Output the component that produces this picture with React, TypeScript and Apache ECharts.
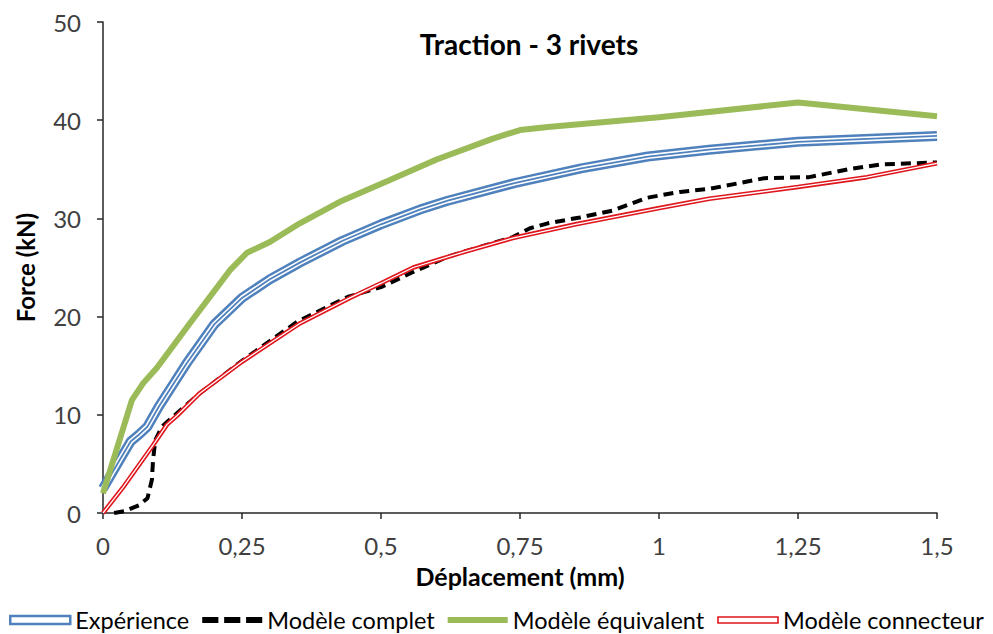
import React, { useEffect, useRef } from "react";
import * as echarts from "echarts";

const titleText = "Traction - 3 rivets";
const xAxisName = "Déplacement (mm)";
const yAxisName = "Force (kN)";
const seriesNames = ["Expérience", "Modèle complet", "Modèle équivalent", "Modèle connecteur"];

// Expérience
const expX = [0, 0.03, 0.05, 0.065, 0.08, 0.1, 0.125, 0.15, 0.2, 0.25, 0.3, 0.354, 0.43, 0.5, 0.57, 0.62, 0.74, 0.86, 0.98, 1.09, 1.25, 1.5];
const expY = [2.5, 5.4, 7.3, 8.0, 8.8, 10.8, 13.0, 15.2, 19.2, 21.9, 23.8, 25.5, 27.7, 29.4, 30.9, 31.8, 33.6, 35.1, 36.3, 37.0, 37.8, 38.4];

// Modèle complet
const compX = [0.02, 0.04, 0.065, 0.08, 0.088, 0.09, 0.094, 0.106, 0.13, 0.17, 0.25, 0.35, 0.44, 0.5, 0.56, 0.62, 0.69, 0.737, 0.768, 0.8, 0.858, 0.917, 0.978, 1.038, 1.09, 1.19, 1.27, 1.34, 1.4, 1.5];
const compY = [0, 0.2, 0.8, 1.5, 3.4, 5.4, 7.4, 8.8, 10.0, 12.0, 15.5, 19.5, 22.0, 23.0, 24.6, 26.1, 27.3, 28.1, 29.0, 29.5, 30.1, 30.8, 32.1, 32.7, 33.0, 34.1, 34.2, 35.0, 35.5, 35.7];

// Modèle équivalent
const equiX = [0, 0.052, 0.072, 0.097, 0.156, 0.228, 0.259, 0.3, 0.354, 0.43, 0.516, 0.6, 0.7, 0.75, 0.8, 1.0, 1.25, 1.5];
const equiY = [2, 11.5, 13.2, 14.8, 19.3, 24.7, 26.5, 27.6, 29.5, 31.8, 33.9, 36.0, 38.1, 39.0, 39.3, 40.3, 41.8, 40.4];

// Modèle connecteur
const connX = [0, 0.036, 0.09, 0.115, 0.133, 0.174, 0.25, 0.354, 0.444, 0.5, 0.558, 0.65, 0.737, 0.85, 0.996, 1.09, 1.25, 1.374, 1.5];
const connY = [0, 2.6, 6.9, 9.0, 9.9, 12.2, 15.4, 19.3, 21.9, 23.4, 25.0, 26.6, 28.0, 29.4, 31.0, 32.0, 33.2, 34.2, 35.6];

const xTicks = [0, 0.25, 0.5, 0.75, 1, 1.25, 1.5];

const zip = (xs: number[], ys: number[]) => xs.map((x, i) => [x, ys[i]]);

const BLUE = "#4F81BD";
const GREEN = "#9BBB59";
const RED = "#E0161D";
const FONT = "Lato, 'Open Sans', sans-serif";

export default function App() {
  const ref = useRef<HTMLDivElement>(null);
  useEffect(() => {
    if (!ref.current) return;
    const chart = echarts.init(ref.current, undefined, { renderer: "svg" });
    const expData = zip(expX, expY);
    const connData = zip(connX, connY);
    const lineBase = { type: "line", showSymbol: false, symbol: "none", smooth: false, silent: true };
    chart.setOption({
      animation: false,
      backgroundColor: "#ffffff",
      textStyle: { fontFamily: FONT },
      title: {
        text: titleText,
        left: 524,
        top: 25,
        textAlign: "center",
        textStyle: { fontFamily: FONT, fontWeight: "bold", fontSize: 28, color: "#000" },
      },
      grid: { left: 103, right: 56, top: 22, bottom: 121, containLabel: false },
      xAxis: {
        type: "value",
        min: 0,
        max: 1.5,
        interval: 0.25,
        name: xAxisName,
        nameLocation: "middle",
        nameGap: 50,
        nameTextStyle: { fontFamily: FONT, fontWeight: "bold", fontSize: 25, color: "#000" },
        axisLine: { show: true, lineStyle: { color: "#262626", width: 1.5 } },
        axisTick: { show: true, inside: false, length: 6, lineStyle: { color: "#262626", width: 1.5 } },
        splitLine: { show: false },
        axisLabel: {
          margin: 20,
          fontSize: 24,
          color: "#404040",
          fontFamily: FONT,
          formatter: (v: number) => (xTicks.includes(v) ? String(v).replace(".", ",") : ""),
        },
      },
      yAxis: {
        type: "value",
        min: 0,
        max: 50,
        interval: 10,
        name: yAxisName,
        nameLocation: "middle",
        nameGap: 66,
        nameRotate: 90,
        nameTextStyle: { fontFamily: FONT, fontWeight: "bold", fontSize: 24, color: "#000" },
        axisLine: { show: true, lineStyle: { color: "#262626", width: 1.5 } },
        axisTick: { show: true, inside: false, length: 6, lineStyle: { color: "#262626", width: 1.5 } },
        splitLine: { show: false },
        axisLabel: { margin: 22, fontSize: 24, color: "#404040", fontFamily: FONT },
      },
      legend: {
        left: 4,
        top: 603,
        itemWidth: 60,
        itemHeight: 8,
        itemGap: 13,
        symbolKeepAspect: true,
        textStyle: { fontFamily: FONT, fontSize: 23.5, color: "#000" },
        data: [
          { name: seriesNames[0], icon: "path://M0,0H60V8H0Z", itemStyle: { color: "#ffffff", borderColor: BLUE, borderWidth: 2.5 } },
          { name: seriesNames[1], icon: "path://M0,0H14V5H0Z M19,0H33V5H19Z M38,0H52V5H38Z", itemStyle: { color: "#000", borderWidth: 0 } },
          { name: seriesNames[2], icon: "path://M0,0H60V6H0Z", itemStyle: { color: GREEN, borderWidth: 0 } },
          { name: seriesNames[3], icon: "path://M0,0H60V6H0Z", itemStyle: { color: "#ffffff", borderColor: RED, borderWidth: 1.6 } },
        ],
      },
      series: [
        { ...lineBase, name: seriesNames[0], data: expData, z: 2, lineStyle: { color: BLUE, width: 10 }, itemStyle: { color: BLUE } },
        { ...lineBase, name: "exp-w", data: expData, z: 3, lineStyle: { color: "#ffffff", width: 5 }, itemStyle: { color: "#fff" } },
        { ...lineBase, name: "exp-c", data: expData, z: 4, lineStyle: { color: BLUE, width: 1.8 }, itemStyle: { color: BLUE } },
        { ...lineBase, name: seriesNames[1], data: zip(compX, compY), z: 5, lineStyle: { color: "#000", width: 4, type: [10, 6] }, itemStyle: { color: "#000" } },
        { ...lineBase, name: seriesNames[2], data: zip(equiX, equiY), z: 5, lineStyle: { color: GREEN, width: 6 }, itemStyle: { color: GREEN } },
        { ...lineBase, name: seriesNames[3], data: connData, z: 6, lineStyle: { color: RED, width: 4.5 }, itemStyle: { color: RED } },
        { ...lineBase, name: "conn-w", data: connData, z: 7, lineStyle: { color: "#ffffff", width: 1.3 }, itemStyle: { color: "#fff" } },
      ],
    });
    return () => chart.dispose();
  }, []);
  return <div ref={ref} style={{ width: 993, height: 634, position: "absolute", left: 0, top: 0 }} />;
}
